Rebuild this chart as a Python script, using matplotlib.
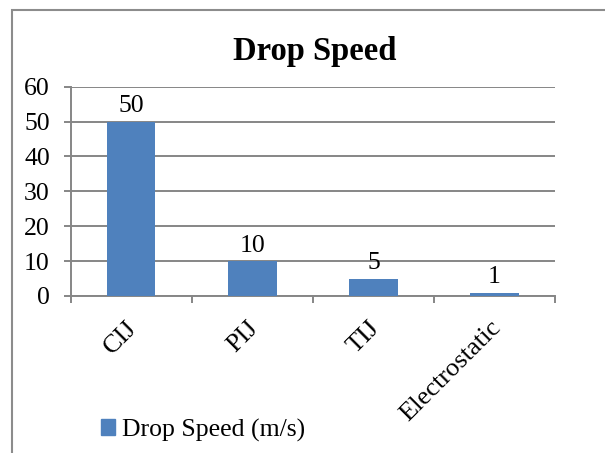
import matplotlib
matplotlib.use("Agg")
import matplotlib.pyplot as plt
import matplotlib.patches as mpatches
from matplotlib.transforms import ScaledTranslation

# chart data
categories = ['CIJ', 'PIJ', 'TIJ', 'Electrostatic']
drop_speed = [50, 10, 5, 1]
series_name = 'Drop Speed (m/s)'
yticks = [0, 10, 20, 30, 40, 50, 60]

plt.rcParams['font.family'] = ['Liberation Serif', 'DejaVu Serif']

bar_color = '#4F81BD'
grid_color = '#868686'

fig = plt.figure(figsize=(6.05, 4.53), dpi=100)
ax = fig.add_axes([70.7 / 605, 157 / 453, (555 - 70.7) / 605, (296 - 86.7) / 453])

x = list(range(len(categories)))
bars = ax.bar(x, drop_speed, width=0.4, color=bar_color, zorder=3)
ax.bar_label(bars, labels=[str(v) for v in drop_speed], padding=3, fontsize=18.5)

ax.set_xlim(-0.5, len(categories) - 0.5)
ax.set_ylim(0, 60)
ax.set_yticks(yticks)
ax.grid(True, axis='y', color=grid_color, linewidth=1.4, zorder=0)

# category ticks sit between the bars, labels on the centers
ax.set_xticks(x)
ax.set_xticklabels(categories, rotation=45, ha='right', rotation_mode='anchor', fontsize=19)
ax.set_xticks([i - 0.5 for i in range(len(categories) + 1)], minor=True)
ax.tick_params(axis='x', which='major', length=0, pad=15)
ax.tick_params(axis='x', which='minor', length=5, width=1.4, color=grid_color)
ax.tick_params(axis='y', length=5, width=1.4, color=grid_color, labelsize=18.5, pad=10)
shift = ScaledTranslation(-5 / 100, 0, fig.dpi_scale_trans)
for lbl in ax.get_xticklabels():
    lbl.set_transform(lbl.get_transform() + shift)

for side in ['top', 'right']:
    ax.spines[side].set_visible(False)
for side in ['left', 'bottom']:
    ax.spines[side].set_color(grid_color)
    ax.spines[side].set_linewidth(1.4)

fig.text(315 / 605, 1 - 60 / 453, 'Drop Speed', ha='center', va='baseline',
         fontsize=23.5, fontweight='bold')

handle = mpatches.Patch(color=bar_color, label=series_name)
fig.legend(handles=[handle], loc='center left', bbox_to_anchor=(101 / 605, 1 - 430 / 453),
           frameon=False, fontsize=18.5, handlelength=0.55, handleheight=0.55,
           handletextpad=0.25, borderpad=0, borderaxespad=0)

# outer chart frame, cut off at right and bottom like the source
frame = mpatches.Rectangle((11.7 / 605, -0.1), 1.2, 1 - 9.7 / 453 + 0.1, transform=fig.transFigure,
                           fill=False, edgecolor='#8c8c8c', linewidth=1.5, clip_on=False)
fig.patches.append(frame)

fig.savefig('out.png', dpi=100)
